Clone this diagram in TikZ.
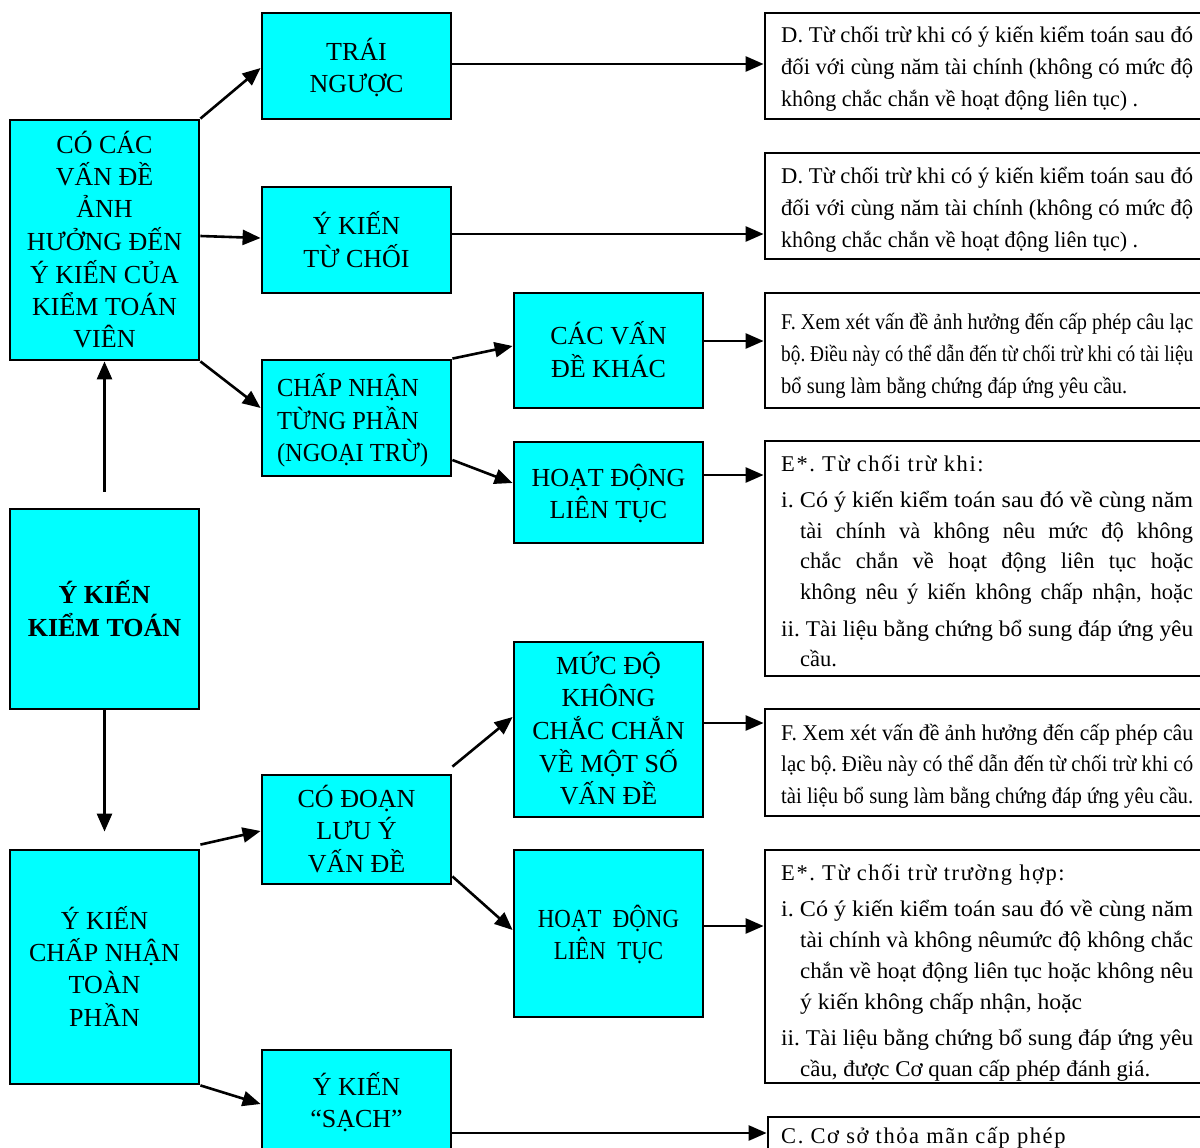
\documentclass[tikz,border=0pt]{standalone}
\usepackage{fontspec}
\setmainfont{Liberation Serif}
\usepackage{graphicx}
\usetikzlibrary{arrows.meta}
\definecolor{aqua}{HTML}{00FFFF}
\frenchspacing
\newlength\fitw
% scale a line horizontally to a given width
\newcommand\fitln[2]{\settowidth\fitw{#2}\scalebox{\fpeval{(#1)/\fitw}}[1]{#2}}
% justify a line by its spaces (scale down if too long)
\newcommand\jln[2]{\settowidth\fitw{#2}\ifdim\fitw>#1\relax\scalebox{\fpeval{(#1)/\fitw}}[1]{#2}\else\makebox[#1][s]{#2}\fi}
\newcommand\lsp{\addfontfeature{LetterSpace=7}}
\newcommand\dn[1]{\raisebox{-4pt}[\height][\depth]{#1}}
\newcommand\bt[1]{\dn{\begin{tabular}{@{}c@{}}#1\end{tabular}}}
\newcommand\ind{\hspace*{19pt}}
\tikzset{
  box/.style={draw=black, line width=2.8pt, fill=aqua, inner sep=0pt,
    font=\fontsize{26}{32}\selectfont},
  rbox/.style={draw=black, line width=2.8pt, fill=white, inner sep=0pt},
  rtxt/.style={anchor=base west, inner sep=0pt},
  arr/.style={line width=2.6pt, -{Triangle[length=18pt,width=15pt]}},
}
\newcommand\cbox[6]{\node[box, minimum width={#4-#2}, minimum height={#5-#3}] (#1) at ({(#2+#4)/2},{(#3+#5)/2}) {#6};}
\newcommand\rbx[5]{\node[rbox, minimum width={#4-#2}, minimum height={#5-#3}] (#1) at ({(#2+#4)/2},{(#3+#5)/2}) {};}
\begin{document}
\begin{tikzpicture}[x=1pt,y=-1pt]
\useasboundingbox (0,0) rectangle (1200,1148);
\fill[white] (0,0) rectangle (1200,1148);

% left / middle boxes
\cbox{A}{10}{120}{199}{360}{\bt{CÓ CÁC\\VẤN ĐỀ\\ẢNH\\HƯỞNG ĐẾN\\Ý KIẾN CỦA\\KIỂM TOÁN\\VIÊN}}
\cbox{TN}{262}{13}{451}{119}{\bt{TRÁI\\NGƯỢC}}
\cbox{TC}{262}{187}{451}{293}{\bt{Ý KIẾN\\TỪ CHỐI}}
\cbox{CN}{262}{360}{451}{476}{\dn{\makebox[159pt][l]{\scalebox{0.94}[1]{\begin{tabular}{@{}l@{}}CHẤP NHẬN\\TỪNG PHẦN\\(NGOẠI TRỪ)\end{tabular}}}}}
\cbox{KH}{514}{293}{703}{408}{\bt{CÁC VẤN\\ĐỀ KHÁC}}
\cbox{HDa}{514}{442}{703}{543}{\bt{HOẠT ĐỘNG\\LIÊN TỤC}}
\cbox{KT}{10}{509}{199}{709}{\bfseries\bt{Ý KIẾN\\KIỂM TOÁN}}
\cbox{MD}{514}{642}{703}{817}{\bt{MỨC ĐỘ\\KHÔNG\\CHẮC CHẮN\\VỀ MỘT SỐ\\VẤN ĐỀ}}
\cbox{CD}{262}{775}{451}{884}{\bt{CÓ ĐOẠN\\LƯU Ý\\VẤN ĐỀ}}
\cbox{HDb}{514}{850}{703}{1017}{\scalebox{0.88}[1]{\bt{HOẠT\ \ ĐỘNG\\LIÊN\ \ TỤC}}}
\cbox{TP}{10}{850}{199}{1084}{\bt{Ý KIẾN\\CHẤP NHẬN\\TOÀN\\PHẦN}}
\cbox{S}{262}{1050}{451}{1152}{\bt{Ý KIẾN\\“SẠCH”}}

% right boxes
\rbx{Da}{765}{13}{1212}{119}
\rbx{Db}{765}{153}{1212}{259}
\rbx{Fa}{765}{293}{1212}{408}
\rbx{Ea}{765}{441}{1212}{676}
\rbx{Fb}{765}{709}{1212}{816}
\rbx{Eb}{765}{850}{1212}{1083}
\rbx{C}{768}{1117}{1212}{1165}

% right texts
\node[rtxt] (tDa) at (781,43) {\parbox[t]{430pt}{\fontsize{22.5}{32}\selectfont
\fitln{412pt}{D. Từ chối trừ khi có ý kiến kiểm toán sau đó}\\
\fitln{412pt}{đối với cùng năm tài chính (không có mức độ}\\
\fitln{357pt}{không chắc chắn về hoạt động liên tục) .}}};
\node[rtxt] (tDb) at (781,183) {\parbox[t]{430pt}{\fontsize{22.5}{32}\selectfont
\fitln{412pt}{D. Từ chối trừ khi có ý kiến kiểm toán sau đó}\\
\fitln{412pt}{đối với cùng năm tài chính (không có mức độ}\\
\fitln{357pt}{không chắc chắn về hoạt động liên tục) .}}};
\node[rtxt] (tFa) at (781,329) {\parbox[t]{430pt}{\fontsize{22.5}{32}\selectfont
\fitln{412pt}{F. Xem xét vấn đề ảnh hưởng đến cấp phép câu lạc}\\
\fitln{412pt}{bộ. Điều này có thể dẫn đến từ chối trừ khi có tài liệu}\\
\fitln{346pt}{bổ sung làm bằng chứng đáp ứng yêu cầu.}}};
\node[rtxt] (tEa) at (781,471) {\parbox[t]{430pt}{\fontsize{22.5}{30.8}\selectfont
{\lsp E*. Từ chối trừ khi:}\\[5.5pt]
\fitln{412pt}{i. Có ý kiến kiểm toán sau đó về cùng năm}\\
\ind\jln{393pt}{tài chính và không nêu mức độ không}\\
\ind\jln{393pt}{chắc chắn về hoạt động liên tục hoặc}\\
\ind\jln{393pt}{không nêu ý kiến không chấp nhận, hoặc}\\[5.5pt]
\fitln{412pt}{ii. Tài liệu bằng chứng bổ sung đáp ứng yêu}\\
\ind cầu.}};
\node[rtxt] (tFb) at (781,740) {\parbox[t]{430pt}{\fontsize{22.5}{31.5}\selectfont
\fitln{412pt}{F. Xem xét vấn đề ảnh hưởng đến cấp phép câu}\\
\fitln{412pt}{lạc bộ. Điều này có thể dẫn đến từ chối trừ khi có}\\
\fitln{412pt}{tài liệu bổ sung làm bằng chứng đáp ứng yêu cầu.}}};
\node[rtxt] (tEb) at (781,880) {\parbox[t]{430pt}{\fontsize{22.5}{31}\selectfont
{\lsp E*. Từ chối trừ trường hợp:}\\[5.5pt]
\fitln{412pt}{i. Có ý kiến kiểm toán sau đó về cùng năm}\\
\ind\fitln{393pt}{tài chính và không nêumức độ không chắc}\\
\ind\fitln{393pt}{chắn về hoạt động liên tục hoặc không nêu}\\
\ind\fitln{282pt}{ý kiến không chấp nhận, hoặc}\\[4.5pt]
\fitln{412pt}{ii. Tài liệu bằng chứng bổ sung đáp ứng yêu}\\
\ind\fitln{350pt}{cầu, được Cơ quan cấp phép đánh giá.}}};
\node[rtxt] (tC) at (781,1143) {\fontsize{22.5}{30}\selectfont\lsp C. Cơ sở thỏa mãn cấp phép};

% connectors
\draw[arr] (A.north east) -- ([yshift=-2pt]TN.west);
\draw[arr] ([yshift=4pt]A.east) -- ([yshift=2pt]TC.west);
\draw[arr] (A.south east) -- ([yshift=10pt]CN.west);
\coordinate (c4) at ([yshift=2pt]TN.east);
\draw[arr] (c4) -- (c4 -| Da.west);
\coordinate (c5) at ([yshift=6pt]TC.east);
\draw[arr] (c5) -- (c5 -| Db.west);
\draw[arr] (CN.north east) -- ([yshift=4.5pt]KH.west);
\draw[arr] ([yshift=-42pt]CN.east) -- ([yshift=9.5pt]HDa.west);
\coordinate (c8) at ([yshift=9.5pt]KH.east);
\draw[arr] (c8) -- (c8 -| Fa.west);
\coordinate (c9) at ([yshift=17.5pt]HDa.east);
\draw[arr] (c9) -- (c9 -| Ea.west);
\coordinate (c10) at ([yshift=6.5pt]MD.east);
\draw[arr] (c10) -- (c10 -| Fb.west);
\draw[arr] ([yshift=7pt]CD.north east) -- ([yshift=12.5pt]MD.west);
\draw[arr] ([yshift=9pt]CD.south east) -- ([yshift=3.5pt]HDb.west);
\coordinate (c13) at ([yshift=7.5pt]HDb.east);
\draw[arr] (c13) -- (c13 -| Eb.west);
\draw[arr] ([yshift=16pt]KT.north) -- (A.south);
\draw[arr] (KT.south) -- ([yshift=17pt]TP.north);
\draw[arr] ([yshift=4pt]TP.north east) -- ([yshift=-1.5pt]CD.west);
\draw[arr] (TP.south east) -- ([yshift=-3pt]S.west);
\coordinate (c18) at ([yshift=-32pt]S.east);
\draw[arr] (c18) -- (c18 -| C.west);
\end{tikzpicture}
\end{document}
